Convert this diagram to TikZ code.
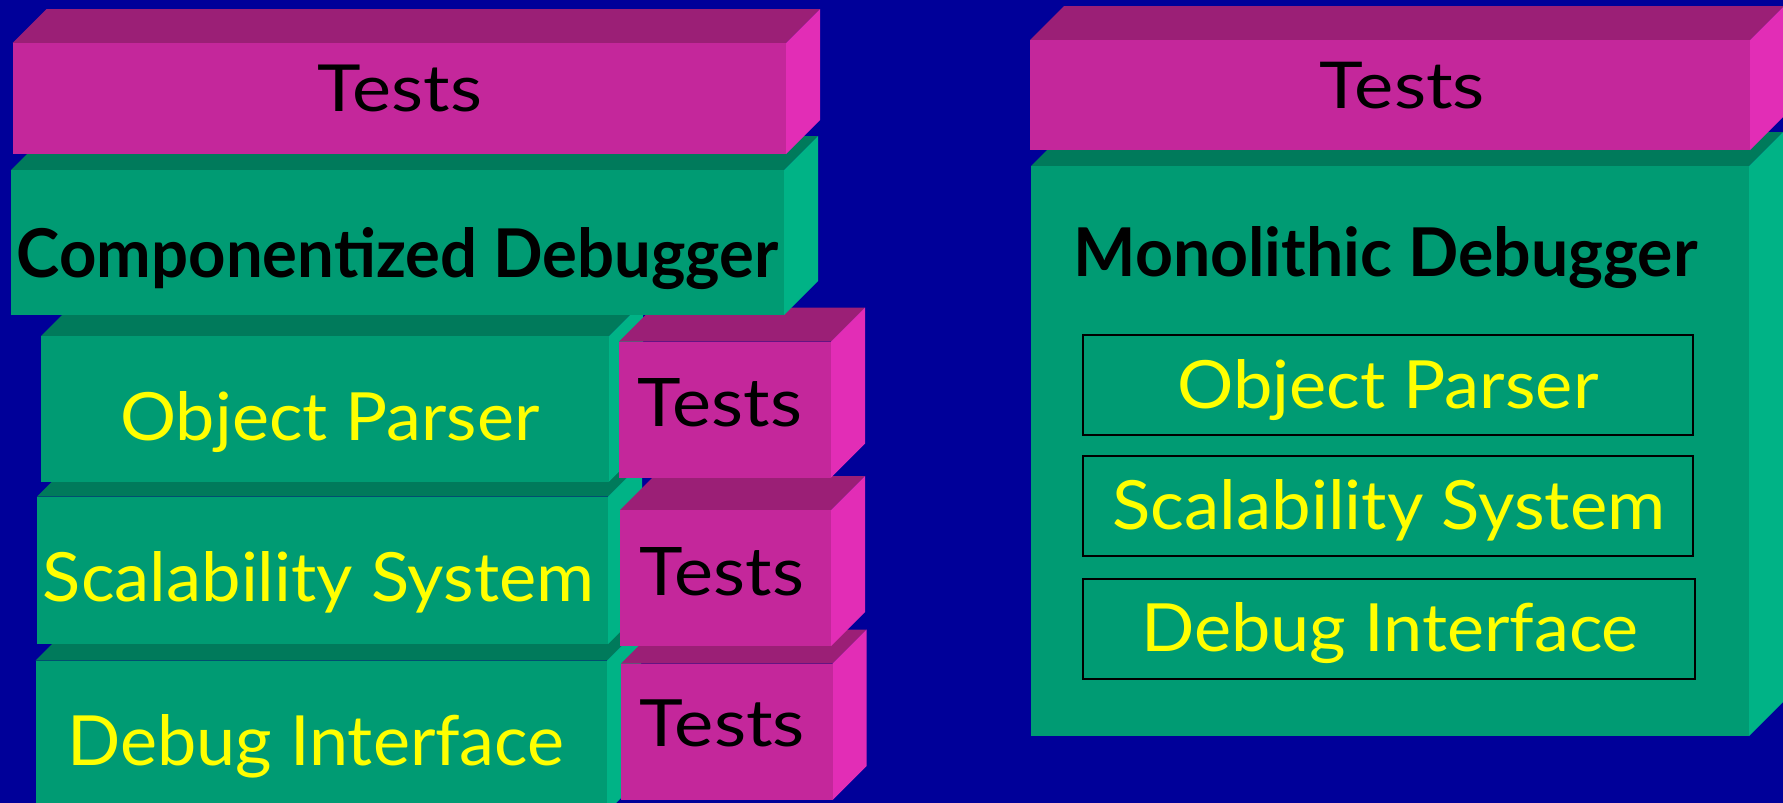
\documentclass[tikz,border=0pt]{standalone}
\usepackage{fontspec}
\setmainfont{Lato}
\usepackage{graphicx}

\definecolor{bg}{RGB}{0,0,153}
\definecolor{greenfront}{RGB}{0,155,115}
\definecolor{greentop}{RGB}{0,122,91}
\definecolor{greenside}{RGB}{0,179,134}
\definecolor{pinkfront}{RGB}{196,39,155}
\definecolor{pinktop}{RGB}{155,31,118}
\definecolor{pinkside}{RGB}{226,45,182}
\definecolor{labelyellow}{RGB}{255,255,0}

\def\cubdepth{34}

% A block drawn as a cuboid: top face, right face, then the front face as a node.
% #1 name, #2 left, #3 top, #4 right, #5 bottom, #6 colour scheme (green or pink)
\newcommand\cuboid[6]{%
  \fill[#6top] (#2,#3) -- (#2+\cubdepth,#3-\cubdepth) -- (#4+\cubdepth,#3-\cubdepth) -- (#4,#3) -- cycle;
  \fill[#6side] (#4,#3) -- (#4+\cubdepth,#3-\cubdepth) -- (#4+\cubdepth,#5-\cubdepth) -- (#4,#5) -- cycle;
  \node[face, fill=#6front, minimum width={(#4-#2)*1pt}, minimum height={(#5-#3)*1pt}] (#1) at (#2,#3) {};
}
% Text fitted to a given width and height (in pt)
\newcommand\lbl[3]{\resizebox{#1pt}{#2pt}{#3}}

\begin{document}
\begin{tikzpicture}[x=1pt,y=-1pt,
  face/.style={draw=none, inner sep=0pt, outer sep=0pt, anchor=north west, rectangle},
  txt/.style={anchor=base, inner sep=0pt, outer sep=0pt},
  title/.style={txt, text=black, font=\bfseries},
  testlbl/.style={txt, text=black},
  partlbl/.style={txt, text=labelyellow},
  inner/.style={draw=black, line width=2pt, fill=greenfront, inner sep=0pt, anchor=north west, rectangle}]

\fill[bg] (0,0) rectangle (1783,803);
\useasboundingbox (0,0) rectangle (1783,803);

% ---- componentized stack (drawn from the bottom up) ----
\cuboid{dbgbox}{35.5}{660.5}{607}{812}{green}
\cuboid{tests3}{621}{663.5}{832.5}{800}{pink}
\cuboid{scalbox}{37}{496.5}{608}{644}{green}
\cuboid{tests2}{620}{510}{831}{646}{pink}
\cuboid{parsebox}{41}{336}{609}{481.5}{green}
\cuboid{tests1}{619}{341.5}{831}{477.5}{pink}
\cuboid{compbox}{11}{170}{784}{315}{green}
\cuboid{teststop}{12.5}{43}{786}{154}{pink}

\node[testlbl] (ttop) at (400,111.5) {\lbl{164}{46.5}{Tests}};
\node[title] (comptitle) at (397.5,277) {\lbl{761}{50}{Componentized Debugger}};
\node[partlbl] (parselbl) at (330,440) {\lbl{419}{49}{Object Parser}};
\node[partlbl] (scallbl) at (318.5,601.7) {\lbl{551}{50}{Scalability System}};
\node[partlbl] (dbglbl) at (316,765) {\lbl{497}{51}{Debug Interface}};
\node[testlbl] (t1lbl) at (720,426) {\lbl{164}{48}{Tests}};
\node[testlbl] (t2lbl) at (722,595) {\lbl{164}{48}{Tests}};
\node[testlbl] (t3lbl) at (722.5,746.7) {\lbl{165}{46.7}{Tests}};

% ---- monolithic block ----
\cuboid{monobox}{1031}{166}{1749}{736}{green}
\cuboid{testsright}{1030}{40}{1750}{150}{pink}

\node[testlbl] (trlbl) at (1402.5,108) {\lbl{165}{46.3}{Tests}};
\node[title] (monotitle) at (1385.5,276) {\lbl{624}{50}{Monolithic Debugger}};

\node[inner, minimum width=610pt, minimum height=100pt] (mparse) at (1082,334) {};
\node[inner, minimum width=610pt, minimum height=100pt] (mscal) at (1082,455) {};
\node[inner, minimum width=612pt, minimum height=100pt] (mdbg) at (1082,577.5) {};

\node[partlbl] (mparselbl) at (1388,408) {\lbl{421}{49}{Object Parser}};
\node[partlbl] (mscallbl) at (1389,529.3) {\lbl{552.5}{50}{Scalability System}};
\node[partlbl] (mdbglbl) at (1390,651.7) {\lbl{497.5}{49}{Debug Interface}};

\end{tikzpicture}
\end{document}
